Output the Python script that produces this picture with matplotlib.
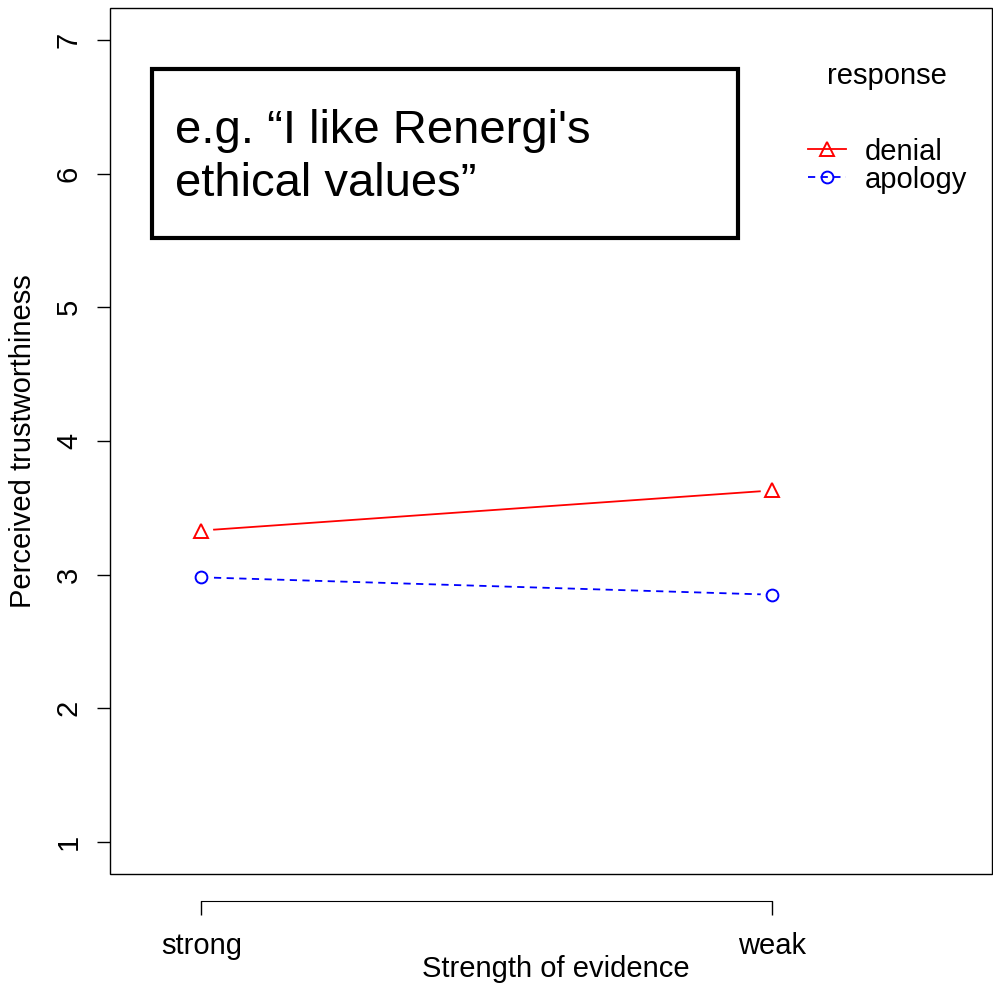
import numpy as np
import matplotlib
matplotlib.use('Agg')
import matplotlib.pyplot as plt
from matplotlib.lines import Line2D
from matplotlib.patches import Rectangle

plt.rcParams['font.family'] = ['Liberation Sans', 'DejaVu Sans']

# dados
niveis = ['strong', 'weak']
respostas = ['denial', 'apology']
denial = [3.33, 3.63]
apology = [2.98, 2.85]
yticks = [1, 2, 3, 4, 5, 6, 7]

fig = plt.figure(figsize=(9.93, 9.84), dpi=100)
ax = fig.add_axes([110/993, 110/984, 882/993, 866/984])

x = np.arange(1, len(niveis) + 1)

# linhas com espaco em volta dos marcadores (tipo "b" do R)
ax.plot(x, denial, color='red', lw=1.3, zorder=2)
ax.plot(x, apology, color='blue', lw=1.3, ls=(0, (4, 3)), zorder=2)
ax.plot(x, denial, ls='none', marker='o', ms=17, mfc='white', mec='none', zorder=3)
ax.plot(x, apology, ls='none', marker='o', ms=17, mfc='white', mec='none', zorder=3)
ax.plot(x, denial, ls='none', marker='^', ms=10, mfc='none', mec='red', mew=1.4, zorder=4)
ax.plot(x, apology, ls='none', marker='o', ms=8.5, mfc='none', mec='blue', mew=1.4, zorder=4)

ax.set_xlim(0.84, 2.385)
ax.set_ylim(0.76, 7.24)

# eixo y
ax.set_yticks(yticks)
ax.set_yticklabels([str(v) for v in yticks], rotation=90, va='center', fontsize=21)
ax.tick_params(axis='y', length=9.5, width=1, pad=10)
ax.set_ylabel('Perceived trustworthiness', fontsize=21, labelpad=13)

# eixo x deslocado para baixo
ax.spines['bottom'].set_position(('outward', 19.5))
ax.spines['bottom'].set_bounds(1, 2)
ax.spines['top'].set_visible(False)
ax.spines['right'].set_visible(False)
ax.spines['left'].set_visible(False)
ax.add_patch(Rectangle((0, 0), 1, 1, transform=ax.transAxes, fill=False,
                       ec='black', lw=1, zorder=5, clip_on=False))
ax.set_xticks(x)
ax.set_xticklabels(niveis, fontsize=21)
ax.tick_params(axis='x', length=10, width=1, pad=12)
ax.set_xlabel('Strength of evidence', fontsize=21)
ax.xaxis.set_label_coords(0.505, -0.093)

# caixa de texto
ax.add_patch(Rectangle((0.914, 5.52), 1.026, 1.263, fill=False, ec='black', lw=3, zorder=5))
ax.text(0.954, 6.12, 'e.g. \u201cI like Renergi\'s\nethical values\u201d', fontsize=34,
        va='center', ha='left', linespacing=1.25, zorder=6)

# legenda
ax.text(2.201, 6.73, 'response', fontsize=21, ha='center', va='center')
handles = [Line2D([], [], color='red', lw=1.3, marker='^', ms=10, mfc='none', mew=1.4),
           Line2D([], [], color='blue', lw=1.3, ls=(0, (4, 3)), marker='o', ms=8.5, mfc='none', mew=1.4)]
ax.legend(handles, respostas, loc='center left', bbox_to_anchor=(2.063, 6.06),
          bbox_transform=ax.transData, frameon=False, fontsize=21,
          handlelength=1.3, handletextpad=0.65, labelspacing=0.0, borderpad=0, borderaxespad=0)

fig.savefig('out.png', dpi=100)
